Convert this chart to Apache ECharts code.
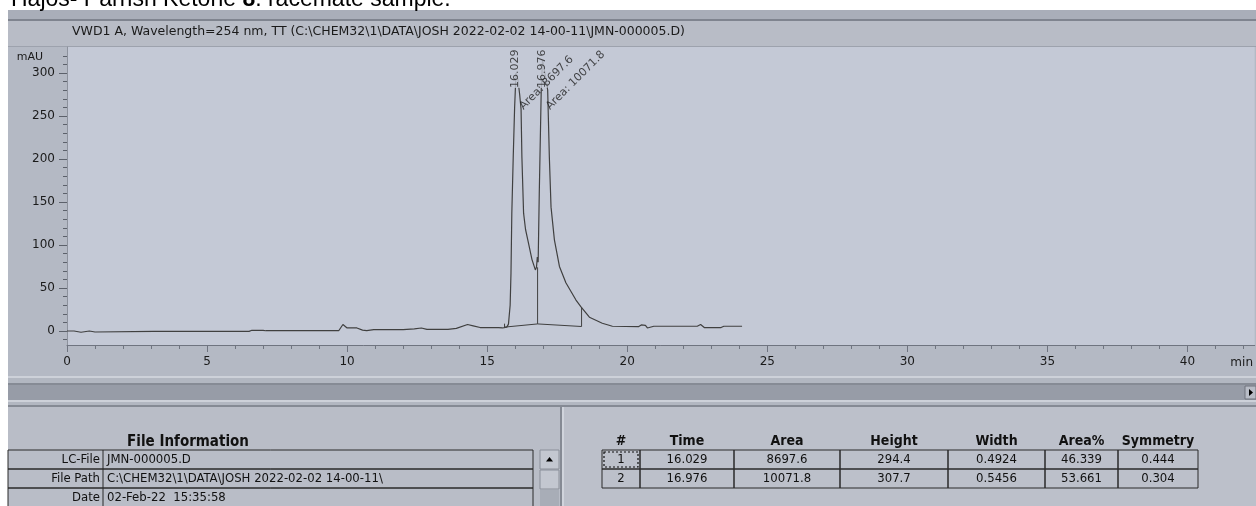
<!DOCTYPE html>
<html><head><meta charset="utf-8">
<script src="https://cdn.jsdelivr.net/npm/echarts@6/dist/echarts.min.js"></script>
<style>html,body{margin:0;padding:0;background:#fff;overflow:hidden}#c{width:1256px;height:506px}</style>
</head><body><div id="c"></div><script>
// ---------------- data ----------------
const titleParts = ['Hajos- Parrish Ketone ', '8', ': racemate sample.'];
const signalTitle = 'VWD1 A, Wavelength=254 nm, TT (C:\\CHEM32\\1\\DATA\\JOSH 2022-02-02 14-00-11\\JMN-000005.D)';
const xTickValues = [0, 5, 10, 15, 20, 25, 30, 35, 40];
const xMinorValues = [0,1,2,3,4,5,6,7,8,9,10,11,12,13,14,15,16,17,18,19,20,21,22,23,24,25,26,27,28,29,30,31,32,33,34,35,36,37,38,39,40,41,42];
const yTickValues = [0, 50, 100, 150, 200, 250, 300];
const yMinorValues = [-10,0,10,20,30,40,50,60,70,80,90,100,110,120,130,140,150,160,170,180,190,200,210,220,230,240,250,260,270,280,290,300,310,320];
const times = [0.00,0.25,0.32,0.50,0.55,0.80,0.85,1.00,1.05,3.10,3.17,3.25,6.50,6.60,7.00,7.06,7.10,9.70,9.85,10.00,10.35,10.55,10.70,10.95,12.00,12.40,12.65,12.85,13.60,13.90,14.30,14.50,14.75,15.40,15.55,15.62,15.70,15.76,15.82,15.85,15.88,15.93,15.98,16.03,16.10,16.16,16.21,16.24,16.30,16.37,16.45,16.60,16.72,16.76,16.79,16.82,16.86,16.93,16.976,17.06,17.16,17.22,17.28,17.40,17.58,17.81,18.17,18.35,18.65,19.11,19.47,20.40,20.50,20.65,20.72,20.95,22.50,22.62,22.75,23.35,23.45,24.10];
const signal = [0,0,-1.5,-1.5,0,0,-1.2,-1.2,-0.5,-0.5,0.8,-0.5,-0.5,0.8,0.8,-0.5,0.3,0.3,7.5,3.5,3.5,1,0.5,1.5,1.5,2.5,3.5,1.8,1.8,3,7.5,6,4,4,3.5,2.5,4.5,8,30,67,137,202,260,300,292,275,258,202,137,118,106,83,71,74,86,80,160,280,315,300,280,202,144,106,75,56,36,28,16,9,5.5,5,7,6.5,3.5,5.5,5.5,7.5,4,4,5.5,5.5];
const integBase1 = [[15.62, 4.5], [16.80, 8.2]];
const integBase2 = [[16.80, 8.2], [18.37, 5.2]];
const dropStart = [[15.62, 4.5], [15.62, 8.5]];
const dropValley = [[16.80, 8.2], [16.80, 74]];
const dropEnd = [[18.37, 5.2], [18.37, 27]];
const peakNo = ['1', '2'];
const peakTime = ['16.029', '16.976'];
const peakArea = ['8697.6', '10071.8'];
const peakHeight = ['294.4', '307.7'];
const peakWidth = ['0.4924', '0.5456'];
const peakAreaPct = ['46.339', '53.661'];
const peakSymmetry = ['0.444', '0.304'];
const peakTableHeaders = ['#', 'Time', 'Area', 'Height', 'Width', 'Area%', 'Symmetry'];
const fileInfoTitle = 'File Information';
const fileInfoLabels = ['LC-File', 'File Path', 'Date'];
const fileInfoValues = ['JMN-000005.D', 'C:\\CHEM32\\1\\DATA\\JOSH 2022-02-02 14-00-11\\', '02-Feb-22  15:35:58'];

// ---------------- styling / layout ----------------
const LABEL_LEVEL = 282;
const AX_FONT = 'DejaVu Sans';
const TB_FONT = '"DejaVu Sans Condensed", "Liberation Sans Narrow", "DejaVu Sans", sans-serif';
const plotBg = '#c4c9d6';
const marginBg = '#b4b9c4';
const traceColor = '#404040';

const chart = echarts.init(document.getElementById('c'), null, {renderer: 'canvas'});

const trace = times.map((t, i) => [t, signal[i]]);
const g = [];
// page / window chrome
g.push({type:'rect', z:-10, shape:{x:0,y:0,width:8,height:506}, style:{fill:'#ffffff'}});
g.push({type:'rect', z:-10, shape:{x:0,y:0,width:1256,height:10}, style:{fill:'#ffffff'}});
g.push({type:'text', z:10, x:11, y:11, style:{text:'{n|' + titleParts[0] + '}{b|' + titleParts[1] + '}{n|' + titleParts[2] + '}', verticalAlign:'bottom', rich:{n:{fontFamily:'Liberation Sans', fontSize:23, fill:'#000'}, b:{fontFamily:'Liberation Sans', fontWeight:'bold', fontSize:23, fill:'#000'}}}});
g.push({type:'rect', z:-10, shape:{x:8,y:10,width:1248,height:9}, style:{fill:'#a9aeb9'}});
g.push({type:'rect', z:-10, shape:{x:8,y:19,width:1248,height:2}, style:{fill:'#7f848f'}});
g.push({type:'rect', z:-10, shape:{x:8,y:21,width:1248,height:26}, style:{fill:'#b8bcc6'}});
g.push({type:'rect', z:-10, shape:{x:8,y:46,width:1248,height:1}, style:{fill:'#9da2ad'}});
g.push({type:'text', z:10, x:72, y:32, style:{text:signalTitle, fontFamily:AX_FONT, fontSize:12.5, fill:'#1a1a1a', verticalAlign:'middle'}});
// lower chrome
g.push({type:'rect', z:-10, shape:{x:8,y:376,width:1248,height:2}, style:{fill:'#cdd1d9'}});
g.push({type:'rect', z:-10, shape:{x:8,y:378,width:1248,height:5}, style:{fill:'#b2b7c1'}});
g.push({type:'rect', z:-10, shape:{x:8,y:383,width:1248,height:2}, style:{fill:'#868b95'}});
g.push({type:'rect', z:-10, shape:{x:8,y:385,width:1248,height:15}, style:{fill:'#979ca7'}});
g.push({type:'rect', z:-9, shape:{x:1245,y:386,width:11,height:13}, style:{fill:'#b8bcc6', stroke:'#6e737d', lineWidth:1}});
g.push({type:'polygon', z:-8, shape:{points:[[1249,389],[1249,396],[1253,392.5]]}, style:{fill:'#000'}});
g.push({type:'rect', z:-10, shape:{x:8,y:400,width:1248,height:2}, style:{fill:'#cdd1d9'}});
g.push({type:'rect', z:-10, shape:{x:8,y:402,width:1248,height:3}, style:{fill:'#b2b7c1'}});
g.push({type:'rect', z:-10, shape:{x:8,y:405,width:1248,height:2}, style:{fill:'#858a94'}});
g.push({type:'rect', z:-10, shape:{x:8,y:407,width:1248,height:99}, style:{fill:'#b9bdc7'}});
g.push({type:'rect', z:-9, shape:{x:560,y:407,width:2,height:99}, style:{fill:'#858a94'}});
g.push({type:'rect', z:-9, shape:{x:562,y:407,width:2,height:99}, style:{fill:'#d0d4dc'}});
g.push({type:'rect', z:-9, shape:{x:564,y:407,width:692,height:99}, style:{fill:'#bcc0ca'}});

// file information table
const ftTop = 450, ftRowH = 19, ftX0 = 8, ftDiv = 103, ftX1 = 533;
g.push({type:'text', z:10, x:188, y:442, style:{text:fileInfoTitle, fontFamily:TB_FONT, fontWeight:'bold', fontSize:15, fill:'#111', align:'center', verticalAlign:'middle'}});
fileInfoLabels.forEach((lab, i) => {
  const y = ftTop + i * ftRowH;
  g.push({type:'rect', z:5, shape:{x:ftX0, y:y, width:ftX1 - ftX0, height:ftRowH}, style:{fill:'none', stroke:'#2a2a2a', lineWidth:1}});
  g.push({type:'line', z:5, shape:{x1:ftDiv, y1:y, x2:ftDiv, y2:y + ftRowH}, style:{stroke:'#2a2a2a', lineWidth:1}});
  g.push({type:'text', z:10, x:ftDiv - 3, y:y + ftRowH / 2 + 0.5, style:{text:lab, fontFamily:TB_FONT, fontSize:13, fill:'#111', align:'right', verticalAlign:'middle'}});
  g.push({type:'text', z:10, x:ftDiv + 4, y:y + ftRowH / 2 + 0.5, style:{text:fileInfoValues[i], fontFamily:TB_FONT, fontSize:13, fill:'#111', align:'left', verticalAlign:'middle'}});
});
// little scroll buttons
g.push({type:'rect', z:5, shape:{x:540, y:450, width:19, height:19}, style:{fill:'#c3c7d0', stroke:'#8a8f99', lineWidth:1}});
g.push({type:'polygon', z:6, shape:{points:[[546,461.5],[553,461.5],[549.5,457]]}, style:{fill:'#000'}});
g.push({type:'rect', z:5, shape:{x:540, y:470, width:19, height:19}, style:{fill:'#c3c7d0', stroke:'#8a8f99', lineWidth:1}});
g.push({type:'rect', z:5, shape:{x:540, y:490, width:19, height:16}, style:{fill:'#a8adb7', stroke:'none'}});

// peak table
const ptEdges = [602, 640, 734, 840, 948, 1045, 1118, 1198];
const ptTop = 450, ptRowH = 19;
const ptCols = [peakNo, peakTime, peakArea, peakHeight, peakWidth, peakAreaPct, peakSymmetry];
peakTableHeaders.forEach((h, c) => {
  g.push({type:'text', z:10, x:(ptEdges[c] + ptEdges[c + 1]) / 2, y:441, style:{text:h, fontFamily:TB_FONT, fontWeight:'bold', fontSize:14, fill:'#111', align:'center', verticalAlign:'middle'}});
});
peakNo.forEach((_, r) => {
  const y = ptTop + r * ptRowH;
  ptCols.forEach((col, c) => {
    g.push({type:'rect', z:5, shape:{x:ptEdges[c], y:y, width:ptEdges[c + 1] - ptEdges[c], height:ptRowH}, style:{fill:'none', stroke:'#2a2a2a', lineWidth:1}});
    g.push({type:'text', z:10, x:(ptEdges[c] + ptEdges[c + 1]) / 2, y:y + ptRowH / 2 + 0.5, style:{text:col[r], fontFamily:TB_FONT, fontSize:13, fill:'#111', align:'center', verticalAlign:'middle'}});
  });
});
g.push({type:'rect', z:7, shape:{x:ptEdges[0] + 2, y:ptTop + 2, width:ptEdges[1] - ptEdges[0] - 4, height:ptRowH - 4}, style:{fill:'none', stroke:'#111', lineWidth:1.2, lineDash:[2, 2]}});

const thinLine = (data, name) => ({
  type:'line', name:name, data:data, showSymbol:false, silent:true, animation:false, z:3,
  lineStyle:{color:traceColor, width:1}
});

const option = {
  backgroundColor: marginBg,
  animation: false,
  grid: {left:67, right:0, top:47, bottom:161, show:true, backgroundColor:plotBg, borderWidth:0},
  xAxis: [
    {type:'value', min:0, max:42.4, position:'bottom',
     axisLine:{show:true, onZero:false, lineStyle:{color:'#6f7480', width:1}},
     axisTick:{show:true, length:7, customValues:xTickValues, lineStyle:{color:'#6f7480'}},
     axisLabel:{customValues:xTickValues, margin:11, fontFamily:AX_FONT, fontSize:12, color:'#1a1a1a'},
     splitLine:{show:false},
     name:'min', nameLocation:'end', nameGap:-13,
     nameTextStyle:{fontFamily:AX_FONT, fontSize:12, color:'#1a1a1a', align:'center', verticalAlign:'top', padding:[12,0,0,0]}},
    {type:'value', min:0, max:42.4, position:'bottom', gridIndex:0,
     axisLine:{show:false, onZero:false}, axisLabel:{show:false}, splitLine:{show:false},
     axisTick:{show:true, length:4, customValues:xMinorValues, lineStyle:{color:'#6f7480'}}}
  ],
  yAxis: [
    {type:'value', min:-16.3, max:330.2, position:'left',
     axisLine:{show:true, onZero:false, lineStyle:{color:'#8d929d', width:1}},
     axisTick:{show:true, length:8, customValues:yTickValues, lineStyle:{color:'#5c616b'}},
     axisLabel:{customValues:yTickValues, margin:12, fontFamily:AX_FONT, fontSize:12, color:'#1a1a1a'},
     splitLine:{show:false},
     name:'mAU', nameLocation:'end', nameGap:-10,
     nameTextStyle:{fontFamily:AX_FONT, fontSize:11, color:'#1a1a1a', align:'right', verticalAlign:'middle', padding:[0,24,0,0]}},
    {type:'value', min:-16.3, max:330.2, position:'left', gridIndex:0,
     axisLine:{show:false, onZero:false}, axisLabel:{show:false}, splitLine:{show:false},
     axisTick:{show:true, length:4, customValues:yMinorValues, lineStyle:{color:'#5c616b'}}}
  ],
  series: [
    {type:'line', name:'VWD1 A', data:trace, showSymbol:false, silent:true, z:4,
     lineStyle:{color:traceColor, width:1.2}},
    thinLine(integBase1, 'base1'),
    thinLine(integBase2, 'base2'),
    thinLine(dropStart, 'drop0'),
    thinLine(dropValley, 'drop1'),
    thinLine(dropEnd, 'drop2'),
    {type:'scatter', name:'rt', symbolSize:1, silent:true, z:6, itemStyle:{color:'rgba(0,0,0,0)'},
     data: peakTime.map(t => [parseFloat(t), LABEL_LEVEL]),
     label:{show:true, formatter:p => peakTime[p.dataIndex], position:[0,0], rotate:90, align:'left', verticalAlign:'middle',
            fontFamily:AX_FONT, fontSize:11, color:'#1e1e1e', backgroundColor:plotBg, padding:[0,1,0,0]}},
    {type:'scatter', name:'area', symbolSize:1, silent:true, z:7, itemStyle:{color:'rgba(0,0,0,0)'},
     data: peakTime.map(t => [parseFloat(t), LABEL_LEVEL]),
     label:{show:true, formatter:p => 'Area: ' + peakArea[p.dataIndex], position:[6,20], rotate:45, align:'left', verticalAlign:'middle',
            fontFamily:AX_FONT, fontSize:11, color:'#1e1e1e'}}
  ],
  graphic: g
};
chart.setOption(option);
</script></body></html>
